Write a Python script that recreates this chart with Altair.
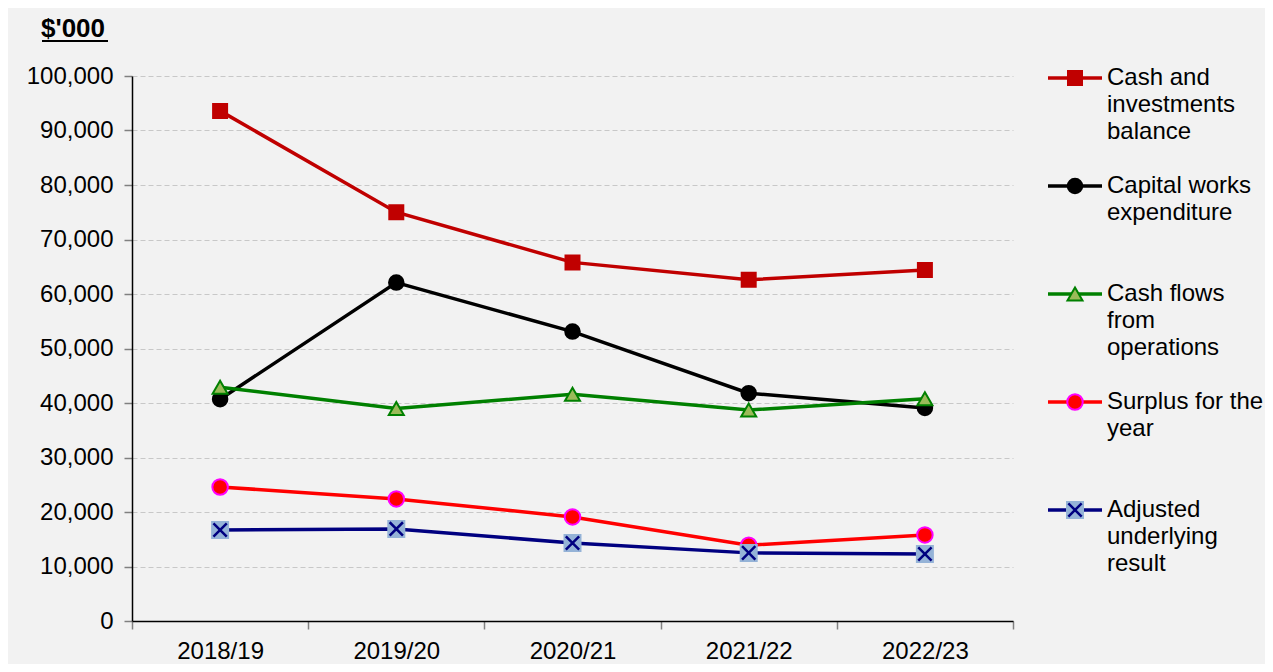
import altair as alt
import pandas as pd

years = ["2018/19", "2019/20", "2020/21", "2021/22", "2022/23"]
series_names = [
    "Cash and investments balance",
    "Capital works expenditure",
    "Cash flows from operations",
    "Surplus for the year",
    "Adjusted underlying result",
]
legend_labels = [
    "Cash and\ninvestments\nbalance",
    "Capital works\nexpenditure",
    "Cash flows\nfrom\noperations",
    "Surplus for the\nyear",
    "Adjusted\nunderlying\nresult",
]
cash_inv = [93600, 75000, 65800, 62600, 64400]
capital = [40700, 62100, 53100, 41800, 39100]
cash_flows = [42900, 39000, 41600, 38700, 40800]
surplus = [24600, 22400, 19100, 13900, 15800]
adjusted = [16700, 16900, 14300, 12500, 12300]
values_by_series = [cash_inv, capital, cash_flows, surplus, adjusted]

line_colors = ["#c00000", "#000000", "#008000", "#ff0000", "#000080"]
fill_colors = ["#c00000", "#000000", "#9bbb59", "#ff0000", "#95b3d7"]
stroke_colors = ["#c00000", "#000000", "#008000", "#ff00ff", "#95b3d7"]
shapes = ["square", "circle", "triangle-up", "circle", "square"]
sizes = [196, 256, 230, 256, 196]

rows = []
for name, vals in zip(series_names, values_by_series):
    for y, v in zip(years, vals):
        rows.append({"series": name, "year": y, "value": v})
df = pd.DataFrame(rows)
legend_df = pd.DataFrame({"series": series_names, "label": legend_labels})

FONT = "Liberation Sans"
cross_path = "M-0.95,-0.95L0.95,0.95M-0.95,0.95L0.95,-0.95"

color_scale = alt.Scale(domain=series_names, range=line_colors)
fill_scale = alt.Scale(domain=series_names, range=fill_colors)
stroke_scale = alt.Scale(domain=series_names, range=stroke_colors)
shape_scale = alt.Scale(domain=series_names, range=shapes)
size_scale = alt.Scale(domain=series_names, range=sizes)

x_enc = alt.X(
    "year:N",
    sort=years,
    scale=alt.Scale(type="band", paddingInner=0, paddingOuter=0),
    bandPosition=0.5,
    axis=alt.Axis(
        title="",
        labelAngle=0,
        labelFontSize=24,
        labelFont=FONT,
        labelColor="#000000",
        labelPadding=10,
        tickBand="extent",
        tickSize=8,
        tickColor="#808080",
        tickWidth=1.5,
        domainColor="#000000",
        domainWidth=1.5,
        grid=False,
    ),
)
y_enc = alt.Y(
    "value:Q",
    scale=alt.Scale(domain=[0, 100000], nice=False),
    axis=alt.Axis(
        title="",
        values=list(range(0, 100001, 10000)),
        format=",.0f",
        labelFontSize=24,
        labelFont=FONT,
        labelColor="#000000",
        labelPadding=11,
        tickSize=8,
        tickColor="#808080",
        tickWidth=1.5,
        domainColor="#000000",
        domainWidth=1.5,
        grid=True,
        gridColor="#c8c8c8",
        gridDash=[5, 3],
        gridWidth=1.2,
    ),
)

base = alt.Chart(df)
lines = base.mark_line(strokeWidth=3.5).encode(
    x=x_enc, y=y_enc,
    color=alt.Color("series:N", scale=color_scale, legend=None),
    detail="series:N",
)
points = base.mark_point(filled=True, strokeWidth=2, opacity=1).encode(
    x=x_enc, y=y_enc,
    fill=alt.Fill("series:N", scale=fill_scale, legend=None),
    stroke=alt.Stroke("series:N", scale=stroke_scale, legend=None),
    shape=alt.Shape("series:N", scale=shape_scale, legend=None),
    size=alt.Size("series:N", scale=size_scale, legend=None),
)
crosses = base.transform_filter(
    alt.datum.series == series_names[4]
).mark_point(shape=cross_path, filled=False, stroke="#000080", strokeWidth=2.5, size=196, opacity=1).encode(
    x=x_enc, y=y_enc,
)
main = alt.layer(lines, points, crosses)

# Legend built from the legend table
ly = alt.Y(
    "series:N",
    sort=series_names,
    scale=alt.Scale(type="point", domain=series_names, range=[2, 434], padding=0),
    axis=None,
)
lbase = alt.Chart(legend_df)
leg_lines = lbase.mark_rule(strokeWidth=3.5).encode(
    y=ly, x=alt.value(916), x2=alt.value(970),
    color=alt.Color("series:N", scale=color_scale, legend=None),
)
leg_points = lbase.mark_point(filled=True, strokeWidth=2, opacity=1).encode(
    y=ly, x=alt.value(943),
    fill=alt.Fill("series:N", scale=fill_scale, legend=None),
    stroke=alt.Stroke("series:N", scale=stroke_scale, legend=None),
    shape=alt.Shape("series:N", scale=shape_scale, legend=None),
    size=alt.Size("series:N", scale=size_scale, legend=None),
)
leg_cross = lbase.transform_filter(
    alt.datum.series == series_names[4]
).mark_point(shape=cross_path, filled=False, stroke="#000080", strokeWidth=2.5, size=196, opacity=1).encode(
    y=ly, x=alt.value(943),
)
leg_text = lbase.mark_text(
    align="left", baseline="middle", lineBreak="\n", lineHeight=27,
    fontSize=24, font=FONT, color="#000000",
).encode(y=ly, x=alt.value(975), text="label:N")
legend = alt.layer(leg_lines, leg_points, leg_cross, leg_text)

unit_title = alt.Chart(legend_df.head(1)).mark_text(
    align="left", baseline="middle", fontSize=26, font=FONT, fontWeight="bold", color="#000000",
).encode(x=alt.value(-91), y=alt.value(-47), text=alt.value("$'000"))
underline = alt.Chart(legend_df.head(1)).mark_rule(color="#000000", strokeWidth=2).encode(
    x=alt.value(-90), x2=alt.value(-24), y=alt.value(-35)
)

chart = alt.layer(main, legend, unit_title, underline).resolve_scale(
    y="independent", x="independent"
).properties(
    width=881,
    height=545,
    padding={"left": 124, "top": 68, "right": 252, "bottom": 43},
    autosize=alt.AutoSizeParams(type="none"),
    background="#f2f2f2",
).configure_view(strokeWidth=0)

chart.save("out.html", embed_options={"renderer": "svg", "actions": False})
